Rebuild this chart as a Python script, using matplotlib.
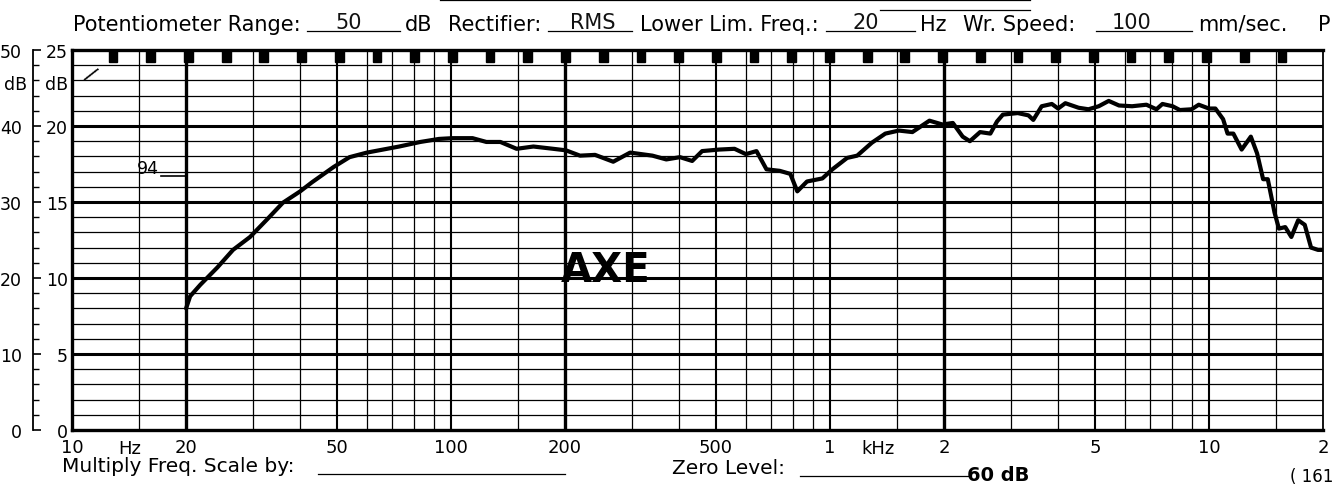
import matplotlib.pyplot as plt
import matplotlib.ticker as ticker
from matplotlib.lines import Line2D
from matplotlib.patches import Rectangle
import numpy as np

# frequency response (Hz, dB on the 50 dB scale)
freq_hz = [20, 20.5, 21.8, 24.2, 26.6, 29.5, 32.7, 36, 40, 43, 49, 54, 60, 73, 83, 93,
           101, 114, 124, 135, 149, 165, 186, 201, 219, 240, 268, 297, 340, 370, 402,
           433, 460, 510, 560, 600, 640, 680, 737, 786, 820, 870, 955, 1015, 1110, 1180,
           1290, 1400, 1520, 1650, 1830, 1980, 2110, 2240, 2340, 2490, 2650, 2760, 2860,
           3130, 3340, 3440, 3620, 3850, 4000, 4180, 4530, 4810, 5120, 5440, 5790, 6270,
           6840, 7270, 7540, 8020, 8380, 9000, 9400, 10000, 10400, 10900, 11200, 11600,
           12200, 12900, 13400, 13900, 14300, 14900, 15300, 15900, 16500, 17200, 17900,
           18600, 19400, 20000]
level_db = [16.0, 17.6, 19.1, 21.4, 23.7, 25.4, 27.7, 29.9, 31.4, 32.6, 34.6, 35.9, 36.5,
            37.3, 37.9, 38.3, 38.4, 38.4, 37.9, 37.9, 37.0, 37.3, 37.0, 36.8, 36.1, 36.2,
            35.3, 36.5, 36.1, 35.6, 35.9, 35.4, 36.7, 36.9, 37.0, 36.3, 36.7, 34.3, 34.1,
            33.7, 31.4, 32.7, 33.1, 34.3, 35.8, 36.1, 37.8, 39.0, 39.4, 39.2, 40.7, 40.2,
            40.4, 38.6, 38.0, 39.2, 39.0, 40.6, 41.5, 41.7, 41.4, 40.8, 42.6, 42.9, 42.3,
            43.0, 42.4, 42.2, 42.6, 43.3, 42.7, 42.6, 42.8, 42.2, 42.9, 42.6, 42.1, 42.2,
            42.8, 42.3, 42.3, 40.9, 39.0, 39.0, 36.9, 38.6, 36.4, 33.0, 33.0, 28.6, 26.5,
            26.7, 25.4, 27.6, 27.0, 24.0, 23.7, 23.7]

# axis labels printed on the paper
xtick_freqs = [10, 20, 50, 100, 200, 500, 1000, 2000, 5000, 10000, 20000]
xtick_labels = ["10", "20", "50", "100", "200", "500", "1", "2", "5", "10", "2"]
outer_ticks = [0, 10, 20, 30, 40, 50]
inner_ticks = [0, 5, 10, 15, 20, 25]

W, H = 1337, 485


def px(x, y):
    # pixel position -> figure fraction
    return x / W, 1 - y / H


fig = plt.figure(figsize=(W / 100, H / 100), dpi=100)
plt.rcParams["font.family"] = ["DejaVu Sans"]

# axes: 72..1323 px wide, 51..431 px tall
ax = fig.add_axes([72 / W, 1 - 431 / H, 1251 / W, 380 / H])
ax.set_xscale("log")
ax.set_xlim(10, 20000)
ax.set_ylim(0, 50)

# paper grid: vertical lines
grid_freqs = []
for decade in [10, 100, 1000]:
    for m in [1, 1.5, 2, 3, 4, 5, 6, 7, 8, 9]:
        grid_freqs.append(decade * m)
grid_freqs += [10000, 15000]
for f in grid_freqs:
    if f in (20, 200, 2000):
        lw = 2.4
    elif f in (50, 100, 500, 1000, 5000, 10000):
        lw = 1.5
    else:
        lw = 0.9
    ax.axvline(f, color="black", lw=lw, zorder=1)

# horizontal lines every 2 dB, bold every 10 dB
for d in range(2, 50, 2):
    ax.axhline(d, color="black", lw=2.2 if d % 10 == 0 else 0.9, zorder=1)

# recorded curve
ax.plot(freq_hz, level_db, color="black", lw=3.0, solid_joinstyle="round",
        solid_capstyle="round", zorder=3)

# sync marks along the top edge
for xa in np.arange(0.0328, 0.975, 0.03014):
    ax.add_patch(Rectangle((xa - 0.0035, 0.968), 0.007, 0.032, transform=ax.transAxes,
                           color="black", clip_on=False, zorder=4))

for side in ["left", "top", "bottom"]:
    ax.spines[side].set_linewidth(2.4)
ax.spines["right"].set_linewidth(1.3)

ax.set_xticks(xtick_freqs, xtick_labels)
ax.xaxis.set_minor_locator(ticker.NullLocator())
ax.tick_params(axis="x", length=0, pad=6, labelsize=13)
ax.set_yticks([])

# outer 50 dB ruler
ruler = ax.secondary_yaxis(-0.0312)
ruler.set_yticks(outer_ticks)
ruler.yaxis.set_minor_locator(ticker.MultipleLocator(2))
ruler.tick_params(which="major", direction="in", length=6, width=1.2, pad=8, labelsize=12.5)
ruler.tick_params(which="minor", direction="in", length=4, width=1.0)
ruler.spines["left"].set_linewidth(1.3)

# inner 25 dB scale
inner = ax.secondary_yaxis("left", functions=(lambda y: y / 2, lambda y: y * 2))
inner.set_yticks(inner_ticks)
inner.yaxis.set_minor_locator(ticker.NullLocator())
inner.tick_params(length=0, pad=3, labelsize=12.5)
inner.spines["left"].set_visible(False)

yax = ax.get_yaxis_transform()
ax.text(-0.036, 45.5, "dB", transform=yax, ha="right", va="center", fontsize=12.5)
ax.text(-0.003, 45.5, "dB", transform=yax, ha="right", va="center", fontsize=12.5)
ax.text(11.2, 46.9, "/", fontsize=15, rotation=-35, ha="center", va="center")

# annotations on the paper
ax.text(195, 19.6, "AXE", fontsize=29, fontweight="bold", ha="left", va="baseline", zorder=5)
ax.text(14.8, 33.8, "94", fontsize=12.5, ha="left", va="baseline")
ax.plot([17.2, 20], [33.4, 33.4], color="black", lw=1.2)
# unit labels on the tick-label row
unit_kw = dict(fontsize=13, ha="center", va="center_baseline")
ax.text(14.2, -2.15, "Hz", **unit_kw)
ax.text(1340, -2.15, "kHz", **unit_kw)

# header line of the form
header = [
    (73, "Potentiometer Range:"),
    (405, "dB"),
    (448, "Rectifier:"),
    (640, "Lower Lim. Freq.:"),
    (920, "Hz"),
    (963, "Wr. Speed:"),
    (1198, "mm/sec."),
    (1318, "P"),
]
for x, s in header:
    fig.text(*px(x, 25), s, fontsize=15, ha="left", va="center")

filled = [(335, "50", 307, 400), (570, "RMS", 548, 632), (852, "20", 826, 915),
          (1112, "100", 1096, 1192)]
for x, s, u0, u1 in filled:
    fig.text(*px(x, 23), s, fontsize=15, ha="left", va="center", color="#111111")
    fig.add_artist(Line2D([u0 / W, u1 / W], [1 - 32 / H] * 2, color="black", lw=0.9))

# stray lines from the sheet above
fig.add_artist(Line2D([440 / W, 1030 / W], [1 - 1 / H] * 2, color="black", lw=0.9))
fig.add_artist(Line2D([880 / W, 1030 / W], [1 - 11 / H] * 2, color="black", lw=0.9))

# footer line of the form
fig.text(*px(62, 467), "Multiply Freq. Scale by:", fontsize=14.5, ha="left", va="center")
fig.add_artist(Line2D([318 / W, 565 / W], [1 - 475 / H] * 2, color="black", lw=0.9))
fig.text(*px(672, 469), "Zero Level:", fontsize=14.5, ha="left", va="center")
fig.add_artist(Line2D([800 / W, 968 / W], [1 - 477 / H] * 2, color="black", lw=0.9))
fig.text(*px(967, 476), "60 dB", fontsize=14, fontweight="bold", ha="left", va="center")
fig.text(*px(1290, 477), "( 161", fontsize=12, ha="left", va="center")

fig.savefig("out.png", dpi=100, facecolor="white")
